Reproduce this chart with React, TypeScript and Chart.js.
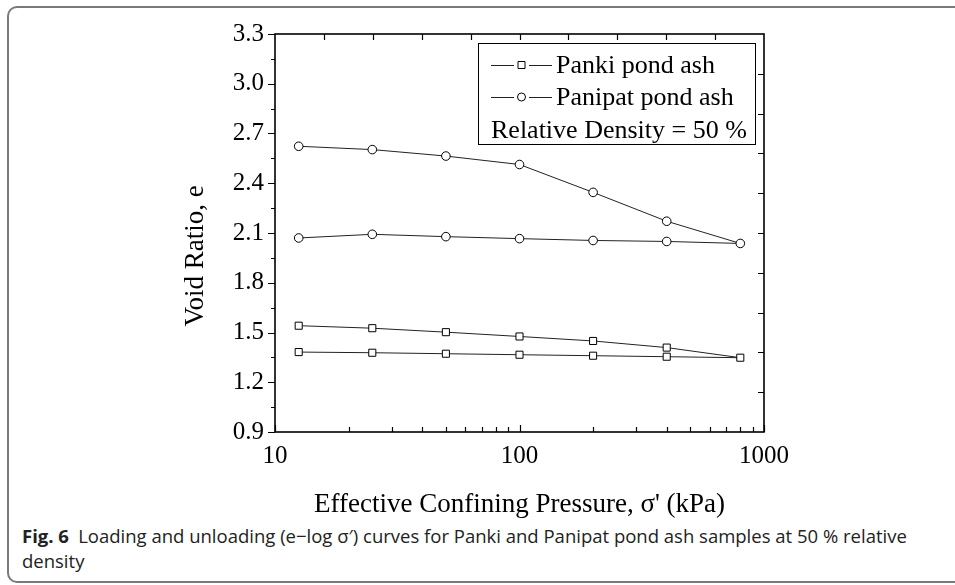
import React, { useEffect, useRef } from "react";
import { Chart, registerables } from "chart.js";

Chart.register(...registerables);

// ---- data ----
const pressuresLoading = [12.5, 25, 50, 100, 200, 400, 800];
const pressuresUnloading = [400, 200, 100, 50, 25, 12.5];
const pankiLoading = [1.541, 1.526, 1.502, 1.476, 1.449, 1.409, 1.348];
const pankiUnloading = [1.354, 1.36, 1.366, 1.372, 1.378, 1.382];
const panipatLoading = [2.623, 2.603, 2.564, 2.513, 2.345, 2.171, 2.037];
const panipatUnloading = [2.049, 2.055, 2.066, 2.078, 2.092, 2.07];
const seriesNames = ["Panki pond ash", "Panipat pond ash"];
const legendNote = "Relative Density = 50 %";
const yTickValues = [0.9, 1.2, 1.5, 1.8, 2.1, 2.4, 2.7, 3.0, 3.3];
const xTickValues = [10, 100, 1000];
const xMinorTickValues = [20, 30, 40, 50, 60, 70, 80, 90, 200, 300, 400, 500, 600, 700, 800, 900];
const xTitle = "Effective Confining Pressure, \u03c3' (kPa)";
const yTitle = "Void Ratio, e";
const captionBold = "Fig. 6";
const captionLine1 = "Loading and unloading (e\u2212log \u03c3\u2032) curves for Panki and Panipat pond ash samples at 50 % relative";
const captionLine2 = "density";

const SERIF = "'Liberation Serif', 'Times New Roman', serif";

function path(loadX: number[], loadY: number[], unX: number[], unY: number[]) {
  return loadX.map((x, i) => ({ x, y: loadY[i] })).concat(unX.map((x, i) => ({ x, y: unY[i] })));
}

const framePlugin = {
  id: "framePlugin",
  afterDraw(chart: any) {
    const ctx = chart.ctx;
    const { left, right, top, bottom } = chart.chartArea;
    const xs = chart.scales.x;
    const ys = chart.scales.y;
    ctx.save();
    ctx.strokeStyle = "#000";
    ctx.lineWidth = 1.6;
    ctx.strokeRect(left, top, right - left, bottom - top);
    ctx.lineWidth = 1.2;
    ctx.beginPath();
    yTickValues.forEach((v) => {
      const y = Math.round(ys.getPixelForValue(v)) + 0.5;
      ctx.moveTo(left - 7, y);
      ctx.lineTo(left, y);
    });
    for (let i = 0; i < yTickValues.length - 1; i++) {
      const v = (yTickValues[i] + yTickValues[i + 1]) / 2;
      const y = Math.round(ys.getPixelForValue(v)) + 0.5;
      ctx.moveTo(left - 4, y);
      ctx.lineTo(left, y);
    }
    xTickValues.forEach((v) => {
      const x = Math.round(xs.getPixelForValue(v)) + 0.5;
      ctx.moveTo(x, bottom);
      ctx.lineTo(x, bottom - 7);
    });
    xMinorTickValues.forEach((v) => {
      const x = Math.round(xs.getPixelForValue(v)) + 0.5;
      ctx.moveTo(x, bottom);
      ctx.lineTo(x, bottom - 5);
    });
    for (let i = 1; i < 10; i++) {
      const x = Math.round(left + ((right - left) * i) / 10) + 0.5;
      ctx.moveTo(x, top);
      ctx.lineTo(x, top + 6);
      const y = Math.round(top + ((bottom - top) * i) / 10) + 0.5;
      ctx.moveTo(right, y);
      ctx.lineTo(right - 6, y);
    }
    ctx.stroke();

    // y-axis title
    ctx.save();
    ctx.translate(left - 79, top + 222);
    ctx.rotate(-Math.PI / 2);
    ctx.font = `27px ${SERIF}`;
    ctx.fillStyle = "#000";
    ctx.textAlign = "center";
    ctx.textBaseline = "middle";
    ctx.fillText(yTitle, 0, 0);
    ctx.restore();

    // legend box
    const bw = 277;
    const bh = 101;
    const bx = right - 9 - bw;
    const by = top + 9;
    ctx.fillStyle = "#fff";
    ctx.fillRect(bx, by, bw, bh);
    ctx.lineWidth = 1;
    ctx.strokeStyle = "#000";
    ctx.strokeRect(bx + 0.5, by + 0.5, bw, bh);
    const rows = [by + 22, by + 54, by + 87];
    ctx.font = `26px ${SERIF}`;
    ctx.fillStyle = "#000";
    ctx.textBaseline = "middle";
    ctx.textAlign = "left";
    chart.data.datasets.forEach((ds: any, i: number) => {
      const cy = rows[i];
      ctx.beginPath();
      ctx.strokeStyle = "#222";
      ctx.lineWidth = 1;
      ctx.moveTo(bx + 13, cy + 0.5);
      ctx.lineTo(bx + 36, cy + 0.5);
      ctx.moveTo(bx + 51, cy + 0.5);
      ctx.lineTo(bx + 74, cy + 0.5);
      ctx.stroke();
      ctx.fillStyle = "#fff";
      ctx.strokeStyle = "#000";
      ctx.beginPath();
      if (ds.pointStyle === "rect") {
        ctx.rect(bx + 40, cy - 3.5, 7, 7);
      } else {
        ctx.arc(bx + 43.5, cy, 4, 0, Math.PI * 2);
      }
      ctx.fill();
      ctx.stroke();
      ctx.fillStyle = "#000";
      ctx.fillText(ds.label, bx + 78, cy + 1);
    });
    ctx.fillText(legendNote, bx + 13, rows[2] + 1);
    ctx.restore();
  },
};

export default function App() {
  const canvasRef = useRef<HTMLCanvasElement | null>(null);

  useEffect(() => {
    if (!canvasRef.current) return;
    const chart = new Chart(canvasRef.current, {
      type: "line",
      data: {
        datasets: [
          {
            label: seriesNames[0],
            data: path(pressuresLoading, pankiLoading, pressuresUnloading, pankiUnloading),
            borderColor: "#222",
            borderWidth: 1,
            pointStyle: "rect",
            pointRadius: 5,
            pointBorderWidth: 1,
            pointBackgroundColor: "#fff",
            pointBorderColor: "#000",
            tension: 0,
            fill: false,
          },
          {
            label: seriesNames[1],
            data: path(pressuresLoading, panipatLoading, pressuresUnloading, panipatUnloading),
            borderColor: "#222",
            borderWidth: 1,
            pointStyle: "circle",
            pointRadius: 4.3,
            pointBorderWidth: 1,
            pointBackgroundColor: "#fff",
            pointBorderColor: "#000",
            tension: 0,
            fill: false,
          },
        ],
      },
      options: {
        animation: false,
        responsive: false,
        devicePixelRatio: 1,
        layout: { padding: { left: 180, right: 191, top: 34, bottom: 0 } },
        plugins: { legend: { display: false }, tooltip: { enabled: false } },
        scales: {
          x: {
            type: "logarithmic",
            min: 10,
            max: 1000,
            grid: { display: false, drawTicks: false },
            border: { display: false },
            afterBuildTicks: (s: any) => {
              s.ticks = xTickValues.map((v) => ({ value: v, major: true }));
            },
            afterFit: (s: any) => {
              s.height = 89;
            },
            ticks: {
              color: "#000",
              padding: 9,
              font: { family: SERIF, size: 25 },
              maxRotation: 0,
              autoSkip: false,
              callback: (v: any) => String(v),
            },
            title: {
              display: true,
              text: xTitle,
              color: "#000",
              font: { family: SERIF, size: 27 },
              padding: { top: 0, bottom: 0 },
            },
          },
          y: {
            type: "linear",
            min: 0.9,
            max: 3.3,
            grid: { display: false, drawTicks: false },
            border: { display: false },
            afterBuildTicks: (s: any) => {
              s.ticks = yTickValues.map((v) => ({ value: v }));
            },
            afterFit: (s: any) => {
              s.width = 95;
            },
            ticks: {
              color: "#000",
              padding: 11,
              font: { family: SERIF, size: 25 },
              callback: (v: any) => Number(v).toFixed(1),
            },
            title: { display: false },
          },
        },
      },
      plugins: [framePlugin],
    } as any);
    return () => chart.destroy();
  }, []);

  return (
    <div style={{ position: "absolute", left: 0, top: 0, width: 955, height: 585, overflow: "hidden", background: "#fff" }}>
      <div
        style={{
          position: "absolute",
          left: 7,
          top: 6,
          width: 1000,
          height: 577,
          border: "2px solid #7a7a7a",
          borderRadius: 10,
          boxSizing: "border-box",
        }}
      />
      <canvas
        ref={canvasRef}
        width={955}
        height={521}
        style={{ position: "absolute", left: 0, top: 0, width: 955, height: 521 }}
      />
      <div
        style={{
          position: "absolute",
          left: 22,
          top: 523,
          fontFamily: "'Open Sans', 'Noto Sans', sans-serif",
          fontSize: 18.5,
          lineHeight: "25px",
          color: "#222",
          whiteSpace: "nowrap",
        }}
      >
        <span style={{ fontWeight: 700 }}>{captionBold}</span>
        {"\u2002"}
        {captionLine1}
        <br />
        {captionLine2}
      </div>
    </div>
  );
}
